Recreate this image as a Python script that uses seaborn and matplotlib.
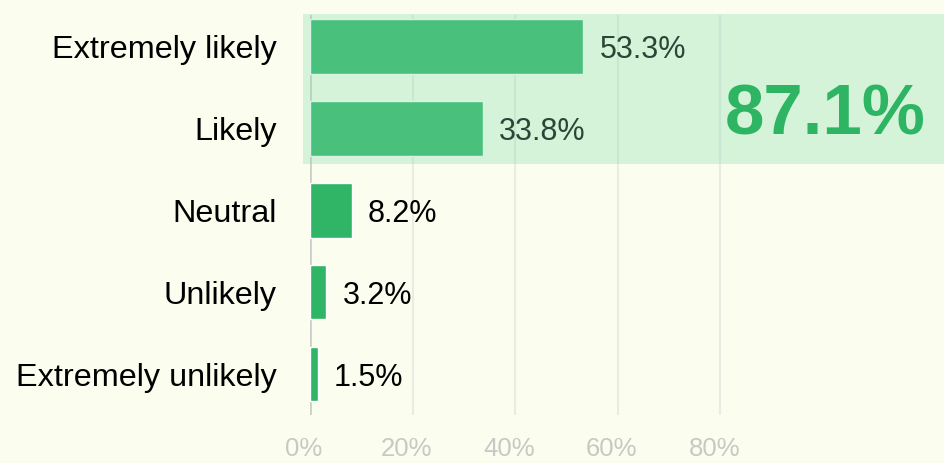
import matplotlib
matplotlib.use('Agg')
import pandas as pd
import seaborn as sns
import matplotlib.pyplot as plt
import matplotlib.transforms as mtransforms
from matplotlib.patches import Rectangle

answers = ['Extremely likely', 'Likely', 'Neutral', 'Unlikely', 'Extremely unlikely']
shares = [53.3, 33.8, 8.2, 3.2, 1.5]
value_labels = ['53.3%', '33.8%', '8.2%', '3.2%', '1.5%']
x_ticks = [0, 20, 40, 60, 80]
x_tick_labels = ['0%', '20%', '40%', '60%', '80%']
top2_label = '87.1%'

df = pd.DataFrame({'answer': answers, 'share': shares})

bg = '#fbfeee'
green = '#2fb565'

sns.set_theme(style='white')
plt.rcParams['font.family'] = ['Liberation Sans', 'DejaVu Sans']

fig = plt.figure(figsize=(9.45, 4.63), dpi=100, facecolor=bg)
ax = fig.add_axes([0.328, 0.1037, 0.672, 0.864])
ax.set_facecolor(bg)

sns.barplot(data=df, x='share', y='answer', color=green, saturation=1,
            width=0.67, orient='h', ax=ax, zorder=2)

ax.set_xlim(0, 123.8)
ax.set_ylim(4.5, -0.38)

# grid
for t in x_ticks[1:]:
    ax.axvline(t, color='#ebebe4', lw=1.5, zorder=0)
ax.axvline(0, color='#cfcfc9', lw=2, zorder=1)

for i, (v, lab) in enumerate(zip(shares, value_labels)):
    ax.annotate(lab, (v, i), xytext=(16, -4), textcoords='offset pixels',
                va='center', ha='left', fontsize=22, color='black', zorder=3)

# top-2 highlight box drawn over the first two bars
ax.add_patch(Rectangle((-1.3, -0.39), 130, 1.83, facecolor='#82dcad',
                       alpha=0.32, edgecolor='none', zorder=5, clip_on=False))
ax.text(100.5, 0.86, top2_label, ha='center', va='center', fontsize=51,
        fontweight='bold', color='#2db563', zorder=6)

ax.set_xticks(x_ticks)
ax.set_xticklabels(x_tick_labels, fontsize=18.5, color='#c8c8c4')
ax.tick_params(axis='x', length=0, pad=16)
ax.tick_params(axis='y', length=0, pad=24, labelsize=23.3, labelcolor='black')
shift = mtransforms.ScaledTranslation(-0.06, 0, fig.dpi_scale_trans)
for lbl in ax.get_xticklabels():
    lbl.set_transform(lbl.get_transform() + shift)
ax.set_xlabel('')
ax.set_ylabel('')
for s in ax.spines.values():
    s.set_visible(False)

fig.savefig('out.png', dpi=100, facecolor=bg)
